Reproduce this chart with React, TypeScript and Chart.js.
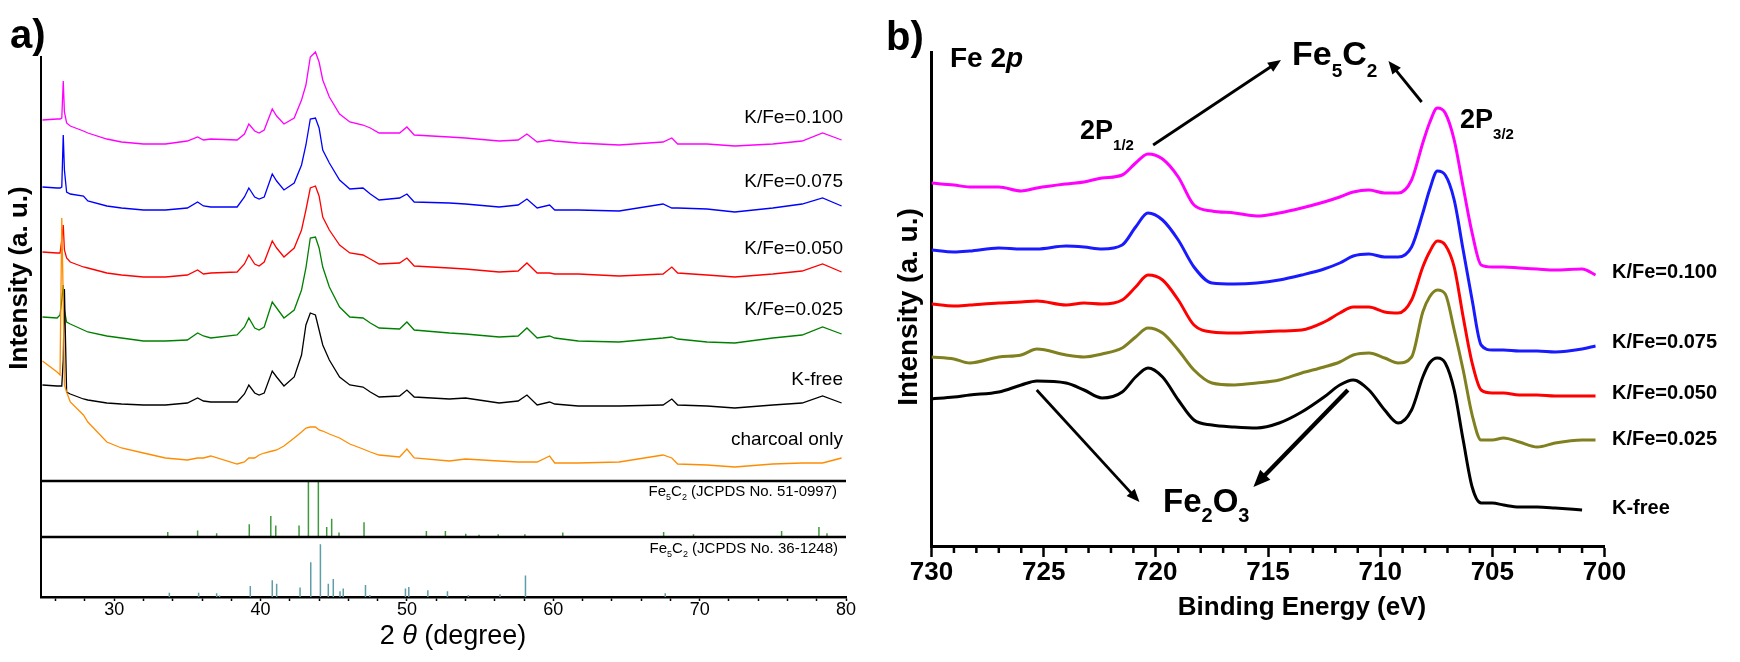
import React, { useEffect, useRef } from "react";
import { Chart, registerables } from "chart.js";

Chart.register(...registerables);

const FONT = "'Liberation Sans', Arial, Helvetica, sans-serif";

// ================= Panel a) XRD =================
const twoTheta = [25.1, 26.1, 26.3, 26.42, 26.52, 26.6, 26.75, 27.0, 27.9, 28.2, 29.5, 30.5, 32.0, 33.5, 35.0, 35.7, 36.1, 36.6, 38.4, 38.9, 39.2, 39.6, 39.9, 40.25, 40.8, 41.1, 41.6, 42.3, 42.8, 43.1, 43.4, 43.75, 44.0, 44.25, 44.7, 45.4, 46.1, 47.0, 47.5, 48.1, 49.5, 50.0, 50.5, 52.9, 54.0, 56.3, 57.6, 58.2, 58.9, 59.75, 60.1, 61.7, 64.5, 67.5, 68.1, 68.5, 70.5, 72.4, 75.0, 77.0, 78.4, 79.7];
const xrdK100 = [477, 478, 478, 479, 516, 485, 474, 471, 466, 464, 458, 455, 453, 453, 456, 460, 457, 458, 457, 463, 473, 466, 464, 467, 488, 481, 473, 479, 497, 512, 540, 545, 535, 517, 500, 483, 475, 472, 469, 464, 464, 470, 462, 460, 459, 456, 457, 463, 455, 457, 456, 454, 452, 455, 459, 453, 453, 451, 453, 456, 464, 457];
const xrdK075 = [410, 409, 409, 410, 462, 427, 405, 403, 401, 396, 391, 389, 387, 387, 389, 395, 391, 390, 390, 400, 409, 400, 398, 400, 423, 416, 407, 414, 432, 452, 478, 479, 469, 447, 434, 417, 408, 409, 403, 397, 399, 403, 395, 394, 393, 390, 392, 398, 389, 392, 387, 387, 386, 393, 389, 389, 388, 385, 389, 393, 399, 391];
const xrdK050 = [345, 344, 344, 357, 372, 347, 339, 335, 330, 329, 324, 322, 320, 320, 322, 327, 323, 324, 325, 333, 342, 333, 331, 335, 356, 349, 340, 349, 367, 387, 409, 411, 401, 380, 367, 352, 344, 342, 338, 333, 334, 339, 331, 329, 328, 325, 326, 334, 324, 324, 323, 323, 321, 323, 330, 324, 322, 320, 323, 326, 333, 325];
const xrdK025 = [280, 279, 282, 297, 312, 287, 275, 273, 267, 265, 261, 259, 256, 256, 257, 264, 261, 259, 262, 270, 279, 269, 267, 270, 295, 289, 279, 287, 307, 329, 359, 360, 349, 330, 310, 290, 280, 279, 274, 269, 268, 275, 267, 264, 263, 260, 261, 269, 259, 261, 259, 256, 255, 259, 260, 258, 255, 254, 259, 262, 270, 263];
const xrdKfree = [212, 211, 211, 211, 237, 308, 205, 203, 198, 197, 194, 193, 192, 192, 194, 199, 196, 195, 195, 203, 212, 204, 202, 204, 226, 220, 211, 220, 242, 272, 284, 282, 267, 252, 237, 220, 212, 210, 205, 200, 201, 207, 200, 198, 199, 194, 196, 202, 192, 195, 193, 191, 191, 192, 198, 192, 191, 189, 192, 194, 201, 194];
const xrdCharcoal = [236, 225, 222, 379, 297, 212, 205, 195, 182, 175, 155, 149, 144, 139, 137, 139, 139, 141, 133, 135, 139, 139, 142, 144, 146, 147, 151, 159, 165, 169, 170, 170, 167, 166, 163, 159, 153, 148, 145, 142, 140, 148, 139, 136, 138, 136, 135, 135, 135, 141, 134, 134, 135, 142, 139, 133, 132, 130, 133, 134, 134, 139];
const xrdNames = ["K/Fe=0.100", "K/Fe=0.075", "K/Fe=0.050", "K/Fe=0.025", "K-free", "charcoal only"];
const xrdColors = ["#ff00ff", "#0000ff", "#ff0000", "#008000", "#000000", "#ff8c00"];
const xrdTicks = [26, 28, 30, 32, 34, 36, 38, 40, 42, 44, 46, 48, 50, 52, 54, 56, 58, 60, 62, 64, 66, 68, 70, 72, 74, 76, 78, 80];

// reference patterns (relative intensity, %)
const ref51Pos = [33.66, 35.7, 37.0, 39.23, 40.7, 41.04, 42.63, 43.27, 43.95, 44.52, 44.86, 45.36, 47.07, 51.33, 52.63, 54.02, 54.93, 56.24, 58.06, 60.65, 67.54, 69.58, 75.6, 78.15, 78.7];
const ref51Int = [9, 12, 7, 23, 38, 21, 21, 100, 100, 18, 33, 8, 27, 11, 11, 6, 4, 5, 5, 8, 9, 5, 11, 18, 7];
const ref36Pos = [33.77, 35.77, 37.0, 37.2, 39.3, 40.8, 41.1, 42.7, 43.43, 44.09, 44.63, 44.97, 45.43, 45.65, 47.17, 47.47, 49.9, 50.13, 51.43, 52.77, 54.2, 56.36, 58.1, 67.65];
const ref36Int = [8, 8, 7, 3, 21, 32, 25, 18, 66, 100, 25, 34, 11, 16, 23, 4, 16, 19, 13, 11, 4, 5, 41, 7];
const ref51Name = "(JCPDS No. 51-0997)";
const ref36Name = "(JCPDS No. 36-1248)";

// ================= Panel b) XPS =================
const bindingEnergy = [730, 729, 728.3, 727, 726, 725.3, 724, 723.2, 722.4, 721.5, 720.9, 720.35, 719.7, 719, 718.3, 717.5, 716.5, 715.5, 714.5, 713.5, 712.5, 711.8, 711.2, 710.5, 709.8, 709.2, 708.6, 708.1, 707.8, 707.45, 707.1, 706.7, 706.3, 705.9, 705.5, 705.0, 704.5, 703.8, 703.0, 702.2, 701.0, 700.4];
const xpsK100 = [363, 361, 359, 359, 355, 358, 362, 364, 368, 371, 383, 392, 387, 369, 341, 335, 333, 330, 333, 338, 344, 349, 354, 356, 353, 353, 366, 403, 423, 438, 433, 406, 359, 313, 281, 279, 279, 278, 277, 276, 277, 271];
const xpsK075 = [296, 294, 295, 298, 297, 297, 300, 299, 297, 301, 319, 333, 326, 306, 279, 263, 262, 263, 266, 271, 277, 283, 290, 292, 289, 289, 299, 333, 356, 375, 371, 346, 296, 246, 201, 196, 196, 195, 195, 194, 197, 200];
const xpsK050 = [242, 240, 241, 243, 244, 245, 241, 243, 242, 246, 259, 271, 266, 246, 221, 214, 213, 214, 215, 216, 224, 233, 239, 239, 234, 233, 246, 279, 294, 305, 301, 279, 229, 183, 156, 153, 153, 151, 151, 150, 150, 150];
const xpsK025 = [189, 187, 183, 189, 191, 197, 191, 189, 192, 198, 209, 218, 213, 196, 176, 163, 161, 163, 166, 173, 179, 184, 191, 193, 188, 183, 189, 234, 249, 256, 252, 216, 176, 131, 106, 106, 108, 104, 99, 103, 106, 106];
const xpsKfree = [147, 149, 151, 154, 161, 165, 163, 156, 148, 154, 169, 178, 169, 146, 126, 121, 119, 118, 123, 134, 149, 161, 166, 156, 136, 123, 136, 169, 183, 188, 183, 156, 106, 59, 43, 43, 41, 39, 39, 38, 36, null];
const xpsNames = ["K/Fe=0.100", "K/Fe=0.075", "K/Fe=0.050", "K/Fe=0.025", "K-free"];
const xpsColors = ["#ff00ff", "#1a1aff", "#ff0000", "#808020", "#000000"];
const xpsMajorTicks = [700, 705, 710, 715, 720, 725, 730];
const xpsMinorTicks = [701, 702, 703, 704, 706, 707, 708, 709, 711, 712, 713, 714, 716, 717, 718, 719, 721, 722, 723, 724, 726, 727, 728, 729];

// ================= helpers =================
type Part = { t: string; sub?: boolean; italic?: boolean };
function richText(
  ctx: CanvasRenderingContext2D,
  parts: Part[],
  x: number,
  y: number,
  opt: { size: number; weight?: string; subSize?: number; subDy?: number; align?: "left" | "right" | "center"; sx?: number }
) {
  const weight = opt.weight || "normal";
  const subSize = opt.subSize ?? Math.round(opt.size * 0.6);
  const subDy = opt.subDy ?? opt.size * 0.3;
  const sx = opt.sx ?? 1;
  const font = (p: Part) => `${p.italic ? "italic " : ""}${weight} ${p.sub ? subSize : opt.size}px ${FONT}`;
  let w = 0;
  for (const p of parts) {
    ctx.font = font(p);
    w += ctx.measureText(p.t).width;
  }
  let x0 = x;
  if (opt.align === "right") x0 = x - w * sx;
  else if (opt.align === "center") x0 = x - (w * sx) / 2;
  ctx.save();
  ctx.fillStyle = "#000";
  ctx.textBaseline = "alphabetic";
  ctx.textAlign = "left";
  ctx.translate(x0, y);
  ctx.scale(sx, 1);
  let cx = 0;
  for (const p of parts) {
    ctx.font = font(p);
    ctx.fillText(p.t, cx, p.sub ? subDy : 0);
    cx += ctx.measureText(p.t).width;
  }
  ctx.restore();
}

function arrow(ctx: CanvasRenderingContext2D, x1: number, y1: number, x2: number, y2: number, lw: number, head: number) {
  const a = Math.atan2(y2 - y1, x2 - x1);
  const c = Math.cos(a), s = Math.sin(a);
  ctx.save();
  ctx.strokeStyle = "#000";
  ctx.fillStyle = "#000";
  ctx.lineWidth = lw;
  ctx.beginPath();
  ctx.moveTo(x1, y1);
  ctx.lineTo(x2 - c * head * 0.8, y2 - s * head * 0.8);
  ctx.stroke();
  const hw = head * 0.42;
  ctx.beginPath();
  ctx.moveTo(x2, y2);
  ctx.lineTo(x2 - head * c + hw * s, y2 - head * s - hw * c);
  ctx.lineTo(x2 - head * c - hw * s, y2 - head * s + hw * c);
  ctx.closePath();
  ctx.fill();
  ctx.restore();
}

function sticks(pos: number[], ints: number[], base: number, full: number) {
  const pts: { x: number; y: number | null }[] = [];
  pos.forEach((p, i) => {
    pts.push({ x: p, y: base }, { x: p, y: base + (ints[i] / 100) * full }, { x: p, y: null });
  });
  return pts;
}

// ================= configs =================
function configA(): any {
  const series = [xrdK100, xrdK075, xrdK050, xrdK025, xrdKfree, xrdCharcoal];
  const traceSets = series
    .map((vals, i) => ({
      label: xrdNames[i],
      data: twoTheta.map((t, j) => ({ x: t, y: vals[j] })),
      borderColor: xrdColors[i],
      borderWidth: 1.3,
      pointRadius: 0,
      tension: 0,
      clip: false,
      fill: false,
    }))
    .reverse();
  const refSets = [
    { label: "51-0997", data: sticks(ref51Pos, ref51Int, 60, 55), borderColor: "#3f9a3f", borderWidth: 1.5, pointRadius: 0, spanGaps: false },
    { label: "36-1248", data: sticks(ref36Pos, ref36Int, 0, 52.7), borderColor: "#5f9ea8", borderWidth: 1.5, pointRadius: 0, spanGaps: false },
  ];
  const labelBaselines = [122.7, 186.7, 254, 315, 385, 445];
  const plugin = {
    id: "panelA",
    afterDraw(chart: any) {
      const ctx: CanvasRenderingContext2D = chart.ctx;
      const { left, right } = chart.chartArea;
      const y = chart.scales.y;
      ctx.save();
      ctx.strokeStyle = "#000";
      ctx.lineWidth = 2.5;
      for (const v of [116, 60]) {
        const py = y.getPixelForValue(v);
        ctx.beginPath();
        ctx.moveTo(left - 1, py);
        ctx.lineTo(right, py);
        ctx.stroke();
      }
      ctx.restore();
      // series labels
      xrdNames.forEach((n, i) => richText(ctx, [{ t: n }], 843, labelBaselines[i], { size: 19, align: "right" }));
      // reference labels
      richText(ctx, [{ t: "Fe" }, { t: "5", sub: true }, { t: "C" }, { t: "2", sub: true }, { t: " " + ref51Name }], 837, 495.5, { size: 15, subSize: 9, subDy: 4, align: "right" });
      richText(ctx, [{ t: "Fe" }, { t: "5", sub: true }, { t: "C" }, { t: "2", sub: true }, { t: " " + ref36Name }], 838, 553, { size: 15, subSize: 9, subDy: 4, align: "right" });
      // panel letter
      richText(ctx, [{ t: "a)" }], 10, 48, { size: 40, weight: "bold" });
      // x title
      richText(ctx, [{ t: "2 " }, { t: "θ", italic: true }, { t: " (degree)" }], 453, 644, { size: 27, align: "center" });
      // y title
      ctx.save();
      ctx.translate(20, 278);
      ctx.rotate(-Math.PI / 2);
      ctx.font = `bold 26px ${FONT}`;
      ctx.fillStyle = "#000";
      ctx.textAlign = "center";
      ctx.textBaseline = "middle";
      ctx.fillText("Intensity (a. u.)", 0, 0);
      ctx.restore();
    },
  };
  return {
    type: "line",
    data: { datasets: [...traceSets, ...refSets] },
    plugins: [plugin],
    options: {
      animation: false,
      responsive: false,
      devicePixelRatio: 1,
      layout: { padding: { left: 41, right: 24, top: 57, bottom: 0 } },
      plugins: { legend: { display: false }, tooltip: { enabled: false } },
      scales: {
        x: {
          type: "linear",
          min: 25,
          max: 80,
          afterBuildTicks: (s: any) => {
            s.ticks = xrdTicks.map((v) => ({ value: v }));
          },
          ticks: {
            autoSkip: false,
            maxRotation: 0,
            padding: 0,
            color: "#000",
            font: { family: FONT, size: 18, lineHeight: 1 },
            callback: (v: number) => (v % 10 === 0 ? String(v) : ""),
          },
          grid: { display: true, drawOnChartArea: false, tickLength: 4, tickWidth: 1.5, tickColor: "#000" },
          border: { display: true, color: "#000", width: 2.5 },
          afterFit: (s: any) => {
            s.height = 65;
          },
        },
        y: {
          min: 0,
          max: 540,
          ticks: { display: false },
          grid: { display: false },
          border: { display: true, color: "#000", width: 2 },
          afterFit: (s: any) => {
            s.width = 0;
          },
        },
      },
    },
  };
}

function configB(): any {
  const series = [xpsK100, xpsK075, xpsK050, xpsK025, xpsKfree];
  const sets = series.map((vals, i) => ({
    label: xpsNames[i],
    data: bindingEnergy.map((e, j) => ({ x: e, y: vals[j] })),
    borderColor: xpsColors[i],
    borderWidth: 3,
    pointRadius: 0,
    cubicInterpolationMode: "monotone",
    fill: false,
  }));
  const labelMid = [272, 342, 393, 439, 508];
  const plugin = {
    id: "panelB",
    afterDraw(chart: any) {
      const ctx: CanvasRenderingContext2D = chart.ctx;
      const xs = chart.scales.x;
      const ys = chart.scales.y;
      const bottom = chart.chartArea.bottom;
      ctx.save();
      ctx.strokeStyle = "#000";
      ctx.lineWidth = 2.5;
      for (const v of xpsMinorTicks) {
        const px = xs.getPixelForValue(v);
        ctx.beginPath();
        ctx.moveTo(px, bottom);
        ctx.lineTo(px, bottom + 7);
        ctx.stroke();
      }
      ctx.restore();
      const P = (e: number, v: number) => [xs.getPixelForValue(e), ys.getPixelForValue(v)];
      // arrows
      const arrows: [number, number, number, number, number, number][] = [
        [720.12, 401, 714.42, 486, 2.8, 13],
        [708.15, 444, 709.63, 485, 2.8, 13],
        [725.31, 156, 720.73, 44, 2.8, 13],
        [711.44, 156, 715.65, 59, 4.2, 17],
      ];
      for (const [e1, v1, e2, v2, lw, h] of arrows) {
        const [x1, y1] = P(e1, v1);
        const [x2, y2] = P(e2, v2);
        arrow(ctx, x1, y1, x2, y2, lw, h);
      }
      // annotation texts
      let [tx, ty] = P(713.93, 481);
      richText(ctx, [{ t: "Fe" }, { t: "5", sub: true }, { t: "C" }, { t: "2", sub: true }], tx, ty, { size: 34, weight: "bold", subSize: 19, subDy: 12 });
      [tx, ty] = P(723.38, 407);
      richText(ctx, [{ t: "2P" }, { t: "1/2", sub: true }], tx, ty, { size: 27, weight: "bold", subSize: 15, subDy: 11 });
      [tx, ty] = P(706.44, 418);
      richText(ctx, [{ t: "2P" }, { t: "3/2", sub: true }], tx, ty, { size: 27, weight: "bold", subSize: 15, subDy: 11 });
      [tx, ty] = P(719.68, 34);
      richText(ctx, [{ t: "Fe" }, { t: "2", sub: true }, { t: "O" }, { t: "3", sub: true }], tx, ty, { size: 33, weight: "bold", subSize: 20, subDy: 10 });
      // series labels
      ctx.save();
      ctx.font = `bold 20px ${FONT}`;
      ctx.fillStyle = "#000";
      ctx.textAlign = "left";
      ctx.textBaseline = "middle";
      xpsNames.forEach((n, i) => ctx.fillText(n, 742, labelMid[i]));
      ctx.restore();
      // panel letter and header
      richText(ctx, [{ t: "b)" }], 16, 50, { size: 40, weight: "bold" });
      richText(ctx, [{ t: "Fe 2" }, { t: "p", italic: true }], 80, 67, { size: 28, weight: "bold" });
      // x title
      richText(ctx, [{ t: "Binding Energy (eV)" }], 432, 615, { size: 26, weight: "bold", align: "center" });
      // y title
      ctx.save();
      ctx.translate(39, 307);
      ctx.rotate(-Math.PI / 2);
      ctx.font = `bold 28px ${FONT}`;
      ctx.fillStyle = "#000";
      ctx.textAlign = "center";
      ctx.textBaseline = "middle";
      ctx.fillText("Intensity (a. u.)", 0, 0);
      ctx.restore();
    },
  };
  return {
    type: "line",
    data: { datasets: sets },
    plugins: [plugin],
    options: {
      animation: false,
      responsive: false,
      devicePixelRatio: 1,
      layout: { padding: { left: 61.5, right: 135.5, top: 52, bottom: 0 } },
      plugins: { legend: { display: false }, tooltip: { enabled: false } },
      scales: {
        x: {
          type: "linear",
          reverse: true,
          min: 700,
          max: 730,
          afterBuildTicks: (s: any) => {
            s.ticks = xpsMajorTicks.map((v) => ({ value: v }));
          },
          ticks: {
            autoSkip: false,
            maxRotation: 0,
            padding: 3,
            color: "#000",
            font: { family: FONT, size: 26, weight: "bold", lineHeight: 1 },
          },
          grid: { display: true, drawOnChartArea: false, tickLength: 11, tickWidth: 2.5, tickColor: "#000" },
          border: { display: true, color: "#000", width: 3 },
          afterFit: (s: any) => {
            s.height = 116;
          },
        },
        y: {
          min: 0,
          max: 494,
          ticks: { display: false },
          grid: { display: false },
          border: { display: true, color: "#000", width: 3 },
          afterFit: (s: any) => {
            s.width = 0;
          },
        },
      },
    },
  };
}

export default function App() {
  const refA = useRef<HTMLCanvasElement>(null);
  const refB = useRef<HTMLCanvasElement>(null);
  useEffect(() => {
    const a = new Chart(refA.current as HTMLCanvasElement, configA());
    const b = new Chart(refB.current as HTMLCanvasElement, configB());
    return () => {
      a.destroy();
      b.destroy();
    };
  }, []);
  return (
    <div style={{ position: "fixed", left: 0, top: 0, width: 1740, height: 662, background: "#fff", overflow: "hidden" }}>
      <canvas ref={refA} width={870} height={662} style={{ position: "absolute", left: 0, top: 0, width: 870, height: 662 }} />
      <canvas ref={refB} width={870} height={662} style={{ position: "absolute", left: 870, top: 0, width: 870, height: 662 }} />
    </div>
  );
}
